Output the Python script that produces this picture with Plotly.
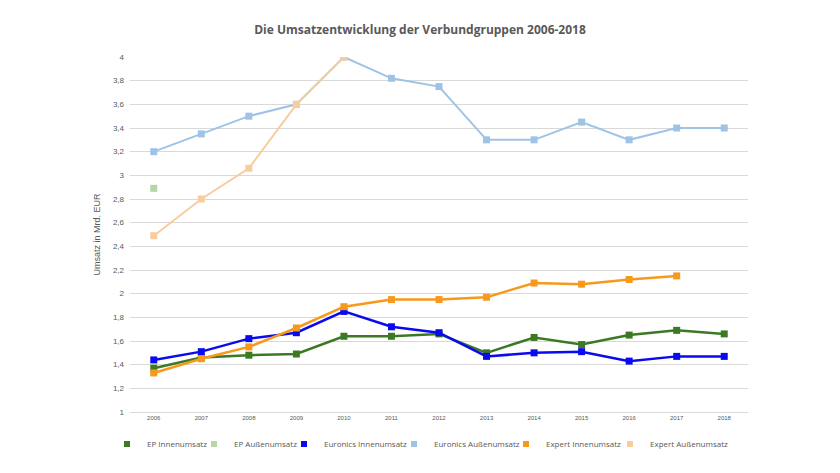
import plotly.graph_objects as go

years = [str(y) for y in range(2006, 2019)]
ep_innen = [1.37, 1.46, 1.48, 1.49, 1.64, 1.64, 1.66, 1.50, 1.63, 1.57, 1.65, 1.69, 1.66]
ep_aussen = [2.89, None, None, None, None, None, None, None, None, None, None, None, None]
euronics_innen = [1.44, 1.51, 1.62, 1.67, 1.85, 1.72, 1.67, 1.47, 1.50, 1.51, 1.43, 1.47, 1.47]
euronics_aussen = [3.20, 3.35, 3.50, 3.60, 4.00, 3.82, 3.75, 3.30, 3.30, 3.45, 3.30, 3.40, 3.40]
expert_innen = [1.33, 1.45, 1.55, 1.71, 1.89, 1.95, 1.95, 1.97, 2.09, 2.08, 2.12, 2.15, None]
expert_aussen = [2.49, 2.80, 3.06, 3.60, 4.00, None, None, None, None, None, None, None, None]

series = [
    ("EP Innenumsatz", ep_innen, "#3b7a22", 2.5),
    ("EP Außenumsatz", ep_aussen, "#b5d6a7", 2),
    ("Euronics Innenumsatz", euronics_innen, "#0a0af0", 2.5),
    ("Euronics Außenumsatz", euronics_aussen, "#9fc3e6", 2),
    ("Expert Innenumsatz", expert_innen, "#f7991c", 2.5),
    ("Expert Außenumsatz", expert_aussen, "#f9cc9e", 2),
]
draw_order = [3, 5, 1, 0, 2, 4]
# legend entry left positions (paper fraction)
legend_x = [-0.0372, 0.1036, 0.2492, 0.4272, 0.6084, 0.7767]

fig = go.Figure()
for i in draw_order:
    name, vals, col, w = series[i]
    fig.add_trace(go.Scatter(
        x=years, y=vals, mode="lines+markers", name=name, showlegend=False,
        line=dict(color=col, width=w),
        marker=dict(symbol="square", size=7, color=col),
        connectgaps=False,
    ))
legend_layouts = {}
for k, (name, vals, col, w) in enumerate(series):
    lname = "legend" if k == 0 else f"legend{k+1}"
    fig.add_trace(go.Scatter(
        x=[None], y=[None], mode="markers", name=name, legend=lname,
        marker=dict(symbol="square", size=6, color=col),
    ))
    legend_layouts[lname] = dict(
        orientation="h", x=legend_x[k], xanchor="left", y=-0.09, yanchor="middle",
        bgcolor="rgba(0,0,0,0)", borderwidth=0,
        font=dict(family="Open Sans", size=8, color="#595959"),
        itemwidth=30,
    )

fig.update_layout(
    width=840, height=473,
    margin=dict(l=130, r=92, t=57, b=61),
    paper_bgcolor="white", plot_bgcolor="white",
    separators=",.",
    title=dict(text="<b>Die Umsatzentwicklung der Verbundgruppen 2006-2018</b>",
               x=0.5, xanchor="center", y=0.937, yanchor="middle",
               font=dict(family="Open Sans", size=12, color="#595959")),
    font=dict(family="Liberation Sans", color="#595959"),
    xaxis=dict(type="category", range=[-0.5, 12.5], showgrid=False,
               showline=True, linecolor="#d9d9d9", linewidth=1,
               ticks="", tickfont=dict(size=6, color="#595959")),
    yaxis=dict(range=[1, 4], dtick=0.2, tick0=1, showgrid=True,
               gridcolor="#d9d9d9", gridwidth=1, zeroline=False,
               ticks="", ticklabelstandoff=5,
               tickfont=dict(size=8, color="#595959"),
               title=dict(text="Umsatz in Mrd. EUR", standoff=10,
                          font=dict(size=9, color="#595959"))),
    **legend_layouts,
)

fig.write_html("out.html")
